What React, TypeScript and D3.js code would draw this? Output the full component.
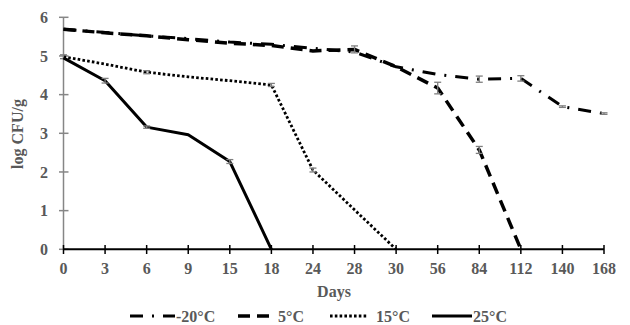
import React from "react";
import * as d3 from "d3";

const days = ["0", "3", "6", "9", "15", "18", "24", "28", "30", "56", "84", "112", "140", "168"];
const yTicks = [0, 1, 2, 3, 4, 5, 6];
const seriesNames = ["-20°C", "5°C", "15°C", "25°C"];

const m20 = [5.69, 5.61, 5.52, 5.45, 5.36, 5.3, 5.2, 5.1, 4.72, 4.52, 4.4, 4.42, 3.69, 3.51];
const m20Err = [0, 0, 0, 0, 0, 0, 0, 0, 0, 0, 0.08, 0.07, 0.02, 0.02];
const p5 = [5.69, 5.6, 5.52, 5.42, 5.33, 5.27, 5.13, 5.17, 4.72, 4.17, 2.57, 0, null, null];
const p5Err = [0, 0, 0, 0, 0, 0, 0, 0.09, 0, 0.15, 0.09, 0, 0, 0];
const p15 = [4.98, 4.79, 4.58, 4.46, 4.36, 4.25, 2.05, 1.02, 0, null, null, null, null, null];
const p15Err = [0.05, 0, 0.04, 0, 0, 0.04, 0.05, 0, 0, 0, 0, 0, 0, 0];
const p25 = [4.95, 4.36, 3.16, 2.96, 2.27, 0, null, null, null, null, null, null, null, null];
const p25Err = [0, 0.06, 0.03, 0, 0.05, 0, 0, 0, 0, 0, 0, 0, 0, 0];

const allValues = [m20, p5, p15, p25];
const allErrs = [m20Err, p5Err, p15Err, p25Err];
const styles = [
  { dash: "13,9,2,9", width: 3, cap: "butt" },
  { dash: "12,7", width: 3.5, cap: "butt" },
  { dash: "2.6,2.2", width: 2.8, cap: "butt" },
  { dash: "", width: 3, cap: "butt" },
];

const grey = "#595959";
const font = "'Liberation Serif', 'Times New Roman', serif";

export default function App() {
  const W = 630, H = 325;
  const x = d3.scalePoint<string>().domain(days).range([63.5, 604]).padding(0);
  const y = d3.scaleLinear().domain([0, 6]).range([249.3, 17.3]);

  const line = d3
    .line<number | null>()
    .defined((d) => d !== null)
    .x((_, i) => x(days[i]) as number)
    .y((d) => y(d as number));

  const legendItems = [
    { x0: 130, x1: 175, tx: 176 },
    { x0: 238, x1: 275, tx: 278 },
    { x0: 330, x1: 368, tx: 376 },
    { x0: 432, x1: 472, tx: 473 },
  ];

  return (
    <svg width={W} height={H} style={{ position: "absolute", left: 0, top: 0 }}>
      <rect width={W} height={H} fill="white" />
      {/* y axis */}
      <line x1={x("0")} x2={x("0")} y1={y(6)} y2={y(0)} stroke="#868686" strokeWidth={1.5} />
      {yTicks.map((t) => (
        <g key={t}>
          <line x1={59} x2={68.5} y1={y(t)} y2={y(t)} stroke="#868686" strokeWidth={1.5} />
          <text x={48} y={y(t)} dy="0.35em" textAnchor="end" fontFamily={font} fontWeight="bold" fontSize={16} fill={grey}>
            {t}
          </text>
        </g>
      ))}
      {/* x axis */}
      <line x1={x("0")} x2={x("168")} y1={y(0)} y2={y(0)} stroke="#000" strokeWidth={2} />
      {days.map((d) => (
        <g key={d}>
          <line x1={x(d)} x2={x(d)} y1={245} y2={254} stroke="#000" strokeWidth={1.5} />
          <text x={x(d)} y={274} textAnchor="middle" fontFamily={font} fontWeight="bold" fontSize={16} fill={grey}>
            {d}
          </text>
        </g>
      ))}
      <text x={334} y={297} textAnchor="middle" fontFamily={font} fontWeight="bold" fontSize={16} fill={grey}>
        Days
      </text>
      <text
        transform={`translate(23,134) rotate(-90)`}
        textAnchor="middle"
        fontFamily={font}
        fontWeight="bold"
        fontSize={16}
        fill={grey}
      >
        log CFU/g
      </text>
      {/* series */}
      {allValues.map((vals, si) => (
        <g key={si}>
          <path
            d={line(vals) || ""}
            fill="none"
            stroke="#000"
            strokeWidth={styles[si].width}
            strokeDasharray={styles[si].dash || undefined}
            strokeLinecap={styles[si].cap as any}
            strokeLinejoin="round"
          />
          {vals.map((v, i) => {
            const e = allErrs[si][i];
            if (v === null || !e) return null;
            const cx = x(days[i]) as number;
            return (
              <g key={i} stroke="#7f7f7f" strokeWidth={1.3}>
                <line x1={cx} x2={cx} y1={y(v + e)} y2={y(v - e)} />
                <line x1={cx - 3.5} x2={cx + 3.5} y1={y(v + e)} y2={y(v + e)} />
                <line x1={cx - 3.5} x2={cx + 3.5} y1={y(v - e)} y2={y(v - e)} />
              </g>
            );
          })}
        </g>
      ))}
      {/* legend */}
      {legendItems.map((it, si) => (
        <g key={si}>
          <line
            x1={it.x0}
            x2={it.x1}
            y1={316}
            y2={316}
            stroke="#000"
            strokeWidth={styles[si].width}
            strokeDasharray={styles[si].dash || undefined}
          />
          <text x={it.tx} y={322} fontFamily={font} fontWeight="bold" fontSize={16} fill={grey}>
            {seriesNames[si]}
          </text>
        </g>
      ))}
    </svg>
  );
}
